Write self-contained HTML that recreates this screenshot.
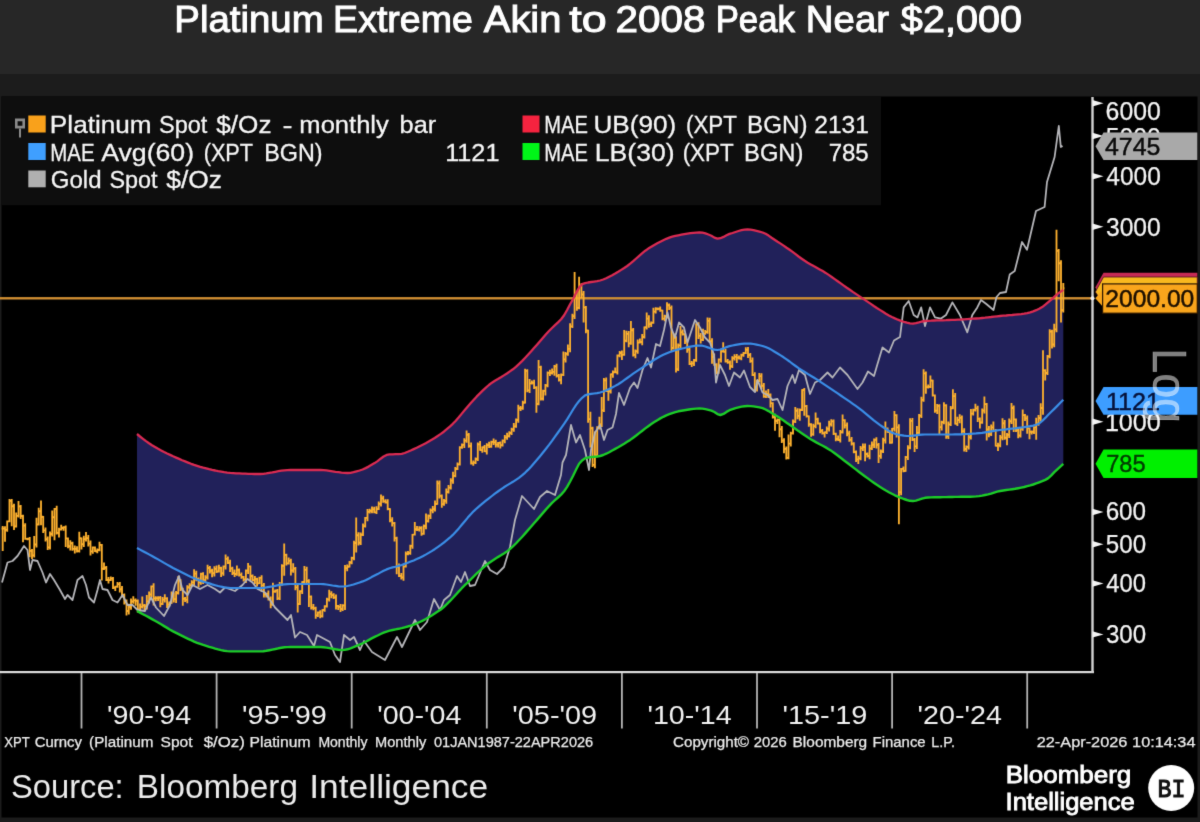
<!DOCTYPE html>
<html lang="en">
<head>
<meta charset="utf-8">
<title>Platinum Extreme Akin to 2008 Peak Near $2,000</title>
<style>
html,body{margin:0;padding:0;background:#1b1b1b;}
body{width:1200px;height:822px;overflow:hidden;position:relative;font-family:"Liberation Sans", sans-serif;color:#fff;}
#hdr{position:absolute;left:0;top:0;width:1200px;height:74px;background:#272727;}
#sub{position:absolute;left:0;top:74px;width:1200px;height:22.5px;background:#1c1c1c;}
#chart{position:absolute;left:0;top:0;width:1200px;height:822px;}
svg text{font-family:"Liberation Sans", sans-serif;}
svg text.bi{font-family:"Liberation Mono", monospace;}
</style>
</head>
<body>
<div id="hdr"></div>
<div id="sub"></div>
<svg id="chart" width="1200" height="822" viewBox="0 0 1200 822">
<defs><filter id="soft" filterUnits="userSpaceOnUse" x="0" y="0" width="1200" height="822" color-interpolation-filters="sRGB">
<feConvolveMatrix order="3" kernelMatrix="0.0113 0.0838 0.0113 0.0838 0.6193 0.0838 0.0113 0.0838 0.0113" edgeMode="duplicate" preserveAlpha="false"/></filter></defs>
<g filter="url(#soft)">
<rect x="0" y="0" width="1200" height="822" fill="#1b1b1b"/>
<rect x="0" y="0" width="1200" height="74" fill="#272727"/>
<rect x="0" y="74" width="1200" height="22.5" fill="#1c1c1c"/>
<!-- title -->
<g font-size="36.8" fill="#ffffff" stroke="#ffffff" stroke-width="1.0">
<text x="174.37" y="32" textLength="149.31" lengthAdjust="spacingAndGlyphs">Platinum</text><text x="333.14" y="32" textLength="139.70" lengthAdjust="spacingAndGlyphs">Extreme</text><text x="483.80" y="32" textLength="77.59" lengthAdjust="spacingAndGlyphs">Akin</text><text x="569.39" y="32" textLength="37.43" lengthAdjust="spacingAndGlyphs">to</text><text x="615.52" y="32" textLength="90.00" lengthAdjust="spacingAndGlyphs">2008</text><text x="715.67" y="32" textLength="79.22" lengthAdjust="spacingAndGlyphs">Peak</text><text x="805.87" y="32" textLength="83.12" lengthAdjust="spacingAndGlyphs">Near</text><text x="900.88" y="32" textLength="121.09" lengthAdjust="spacingAndGlyphs">$2,000</text>
</g>

<!-- plot background -->
<rect x="1.5" y="96.5" width="1196" height="721" fill="#000"/>

<!-- legend box -->
<rect x="1.5" y="96.5" width="879.5" height="108.7" fill="#0e0e0e"/>

<!-- MAE band -->
<path d="M137 434 L140 436.5 L143 438.8 L146 441.1 L149 443.2 L152 445.2 L155 447 L158.1 448.8 L161.1 450.4 L164.1 452 L167.1 453.5 L170.1 454.9 L173.1 456.3 L176.1 457.6 L179.1 458.9 L182.1 460.2 L185.1 461.4 L188.1 462.6 L191.1 463.8 L194.1 464.9 L197.1 465.9 L200.2 466.9 L203.2 467.7 L206.2 468.4 L209.2 469.2 L212.2 469.9 L215.2 470.5 L218.2 471.2 L221.2 471.7 L224.2 472.2 L227.2 472.6 L230.2 472.9 L233.2 473.1 L236.2 473.3 L239.3 473.4 L242.3 473.6 L245.3 473.7 L248.3 473.8 L251.3 473.9 L254.3 474 L257.3 474 L260.3 474 L263.3 473.8 L266.3 473.4 L269.3 472.9 L272.3 472.4 L275.3 471.8 L278.4 471.2 L281.4 470.7 L284.4 470.3 L287.4 470.1 L290.4 470 L293.4 470 L296.4 470 L299.4 470 L302.4 470 L305.4 470 L308.4 470 L311.4 470 L314.4 470 L317.4 470 L320.5 470 L323.5 470.1 L326.5 470.4 L329.5 470.8 L332.5 471.3 L335.5 471.8 L338.5 472.2 L341.5 472.6 L344.5 472.9 L347.5 473 L350.5 472.8 L353.5 472.2 L356.5 471.4 L359.6 470.5 L362.6 469.5 L365.6 468.1 L368.6 466.6 L371.6 464.8 L374.6 463.1 L377.6 461.1 L380.6 458.7 L383.6 456.5 L386.6 454.9 L389.6 454.4 L392.6 454.3 L395.6 454.2 L398.6 454.1 L401.7 453.8 L404.7 453 L407.7 451.8 L410.7 450.5 L413.7 449.1 L416.7 447.8 L419.7 446.3 L422.7 444.8 L425.7 443.2 L428.7 441.5 L431.7 439.8 L434.7 438 L437.7 436 L440.8 433.9 L443.8 431.7 L446.8 429.2 L449.8 426.6 L452.8 423.8 L455.8 420.7 L458.8 417.3 L461.8 413.6 L464.8 410 L467.8 406.5 L470.8 403 L473.8 399.7 L476.8 396.4 L479.9 393.4 L482.9 390.4 L485.9 387.6 L488.9 385 L491.9 382.7 L494.9 380.8 L497.9 379.1 L500.9 377.3 L503.9 375.4 L506.9 373.5 L509.9 371.4 L512.9 369.3 L515.9 366.9 L518.9 364.1 L522 361.1 L525 358 L528 354.8 L531 351.5 L534 348.1 L537 344.7 L540 341.2 L543 337.7 L546 334.3 L549 331 L552 328 L555 325.2 L558 322.4 L561.1 319.3 L564.1 315.3 L567.1 310 L570.1 304.3 L573.1 299 L576.1 293.1 L579.1 287.6 L582.1 284.2 L585.1 283.2 L588.1 282.5 L591.1 282 L594.1 281.6 L597.1 281.2 L600.1 280.5 L603.2 279.5 L606.2 278.3 L609.2 276.8 L612.2 275.3 L615.2 273.6 L618.2 271.8 L621.2 269.9 L624.2 268 L627.2 266 L630.2 263.7 L633.2 261.2 L636.2 258.5 L639.2 255.8 L642.3 253.2 L645.3 250.7 L648.3 248.6 L651.3 246.8 L654.3 245 L657.3 243.3 L660.3 241.7 L663.3 240.2 L666.3 238.8 L669.3 237.7 L672.3 236.7 L675.3 235.9 L678.3 235.3 L681.4 234.7 L684.4 234.1 L687.4 233.6 L690.4 233.2 L693.4 232.8 L696.4 232.6 L699.4 232.5 L702.4 232.7 L705.4 233.4 L708.4 234.5 L711.4 235.7 L714.4 237.6 L717.4 238.7 L720.4 238.2 L723.5 236.9 L726.5 235.3 L729.5 233.9 L732.5 233 L735.5 232 L738.5 231 L741.5 230.2 L744.5 229.7 L747.5 229.5 L750.5 229.7 L753.5 230.1 L756.5 230.8 L759.5 231.6 L762.6 232.5 L765.6 233.8 L768.6 235.6 L771.6 237.7 L774.6 239.7 L777.6 241.7 L780.6 243.6 L783.6 245.6 L786.6 247.7 L789.6 249.7 L792.6 251.9 L795.6 254.2 L798.6 256.5 L801.7 258.7 L804.7 260.8 L807.7 262.7 L810.7 264.4 L813.7 266.1 L816.7 267.7 L819.7 269.4 L822.7 271.1 L825.7 272.9 L828.7 274.9 L831.7 277 L834.7 279.1 L837.7 281.3 L840.7 283.4 L843.8 285.6 L846.8 287.8 L849.8 289.8 L852.8 291.9 L855.8 293.9 L858.8 295.9 L861.8 297.9 L864.8 299.9 L867.8 301.9 L870.8 303.9 L873.8 306 L876.8 308 L879.8 309.9 L882.9 311.8 L885.9 313.7 L888.9 315.4 L891.9 317 L894.9 318.4 L897.9 319.7 L900.9 320.8 L903.9 321.8 L906.9 322.7 L909.9 323.4 L912.9 323.6 L915.9 323.2 L918.9 322.4 L921.9 321.5 L925 321 L928 320.8 L931 320.7 L934 320.5 L937 320.4 L940 320.3 L943 320.3 L946 320.2 L949 320 L952 319.9 L955 319.8 L958 319.6 L961 319.5 L964.1 319.3 L967.1 319.1 L970.1 318.9 L973.1 318.7 L976.1 318.5 L979.1 318.3 L982.1 318 L985.1 317.7 L988.1 317.3 L991.1 317 L994.1 316.6 L997.1 316.3 L1000.1 316 L1003.2 315.7 L1006.2 315.5 L1009.2 315.2 L1012.2 315 L1015.2 314.7 L1018.2 314.4 L1021.2 314.1 L1024.2 313.7 L1027.2 313.1 L1030.2 312.3 L1033.2 311.3 L1036.2 310.2 L1039.2 308.8 L1042.2 307.1 L1045.3 304.7 L1048.3 302.1 L1051.3 299.6 L1054.3 296.9 L1057.3 294.2 L1060.3 291.9 L1063.3 290 L1063.3 463.8 L1060.3 466.6 L1057.3 469.4 L1054.3 472.2 L1051.3 475.3 L1048.3 478.1 L1045.3 479.9 L1042.2 481.2 L1039.2 482.3 L1036.2 483.4 L1033.2 484.5 L1030.2 485.4 L1027.2 486.2 L1024.2 487 L1021.2 487.6 L1018.2 488.2 L1015.2 488.8 L1012.2 489.2 L1009.2 489.6 L1006.2 490 L1003.2 490.5 L1000.1 491 L997.1 491.7 L994.1 492.6 L991.1 493.6 L988.1 494.4 L985.1 495 L982.1 495.6 L979.1 496.1 L976.1 496.4 L973.1 496.6 L970.1 496.7 L967.1 496.7 L964.1 496.8 L961 496.8 L958 496.9 L955 496.9 L952 497 L949 497 L946 497.1 L943 497.1 L940 497.2 L937 497.2 L934 497.3 L931 497.4 L928 497.5 L925 497.8 L921.9 498.7 L918.9 499.7 L915.9 500.6 L912.9 501 L909.9 500.8 L906.9 500 L903.9 499 L900.9 497.8 L897.9 496.7 L894.9 495.3 L891.9 493.8 L888.9 492.2 L885.9 490.5 L882.9 488.7 L879.8 486.8 L876.8 484.8 L873.8 482.7 L870.8 480.6 L867.8 478.4 L864.8 476.2 L861.8 474 L858.8 471.7 L855.8 469.4 L852.8 467.1 L849.8 464.8 L846.8 462.5 L843.8 460.2 L840.7 457.8 L837.7 455.5 L834.7 453.3 L831.7 451.1 L828.7 449.2 L825.7 447.4 L822.7 445.8 L819.7 444.2 L816.7 442.6 L813.7 440.9 L810.7 439.2 L807.7 437.3 L804.7 435.3 L801.7 433.2 L798.6 431.1 L795.6 428.9 L792.6 426.8 L789.6 424.7 L786.6 422.7 L783.6 420.6 L780.6 418.5 L777.6 416.6 L774.6 414.8 L771.6 413 L768.6 411.1 L765.6 409.5 L762.6 408.2 L759.5 407.4 L756.5 406.9 L753.5 406.4 L750.5 406.1 L747.5 406 L744.5 406.2 L741.5 406.6 L738.5 407.4 L735.5 408.2 L732.5 409.2 L729.5 410.2 L726.5 411.9 L723.5 413.9 L720.4 415 L717.4 414.1 L714.4 412 L711.4 410.7 L708.4 409.8 L705.4 409.1 L702.4 408.6 L699.4 408.5 L696.4 408.6 L693.4 408.9 L690.4 409.2 L687.4 409.7 L684.4 410.2 L681.4 410.7 L678.3 411.3 L675.3 412.1 L672.3 413.1 L669.3 414.2 L666.3 415.4 L663.3 416.8 L660.3 418.4 L657.3 420.2 L654.3 422.1 L651.3 424.1 L648.3 426.2 L645.3 428.4 L642.3 430.7 L639.2 433.1 L636.2 435.5 L633.2 437.7 L630.2 439.9 L627.2 441.8 L624.2 443.7 L621.2 445.5 L618.2 447.3 L615.2 448.9 L612.2 450.5 L609.2 452.2 L606.2 453.7 L603.2 455 L600.1 456 L597.1 456.5 L594.1 456.8 L591.1 457.1 L588.1 457.5 L585.1 458.3 L582.1 460.4 L579.1 463.7 L576.1 469.6 L573.1 475.8 L570.1 481.5 L567.1 486.9 L564.1 491.2 L561.1 494.6 L558 497.5 L555 500.2 L552 502.9 L549 506.1 L546 509.4 L543 512.9 L540 516.4 L537 519.9 L534 523.3 L531 526.7 L528 530.1 L525 533.6 L522 537 L518.9 540.3 L515.9 543.5 L512.9 546.4 L509.9 549.1 L506.9 551.4 L503.9 553.4 L500.9 555.3 L497.9 557.1 L494.9 559 L491.9 560.9 L488.9 563 L485.9 565.3 L482.9 567.9 L479.9 570.6 L476.8 573.4 L473.8 576.3 L470.8 579.3 L467.8 582.3 L464.8 585.2 L461.8 588.2 L458.8 591.4 L455.8 594.7 L452.8 598 L449.8 601.2 L446.8 604.2 L443.8 607 L440.8 609.5 L437.7 611.6 L434.7 613.6 L431.7 615.5 L428.7 617.3 L425.7 619 L422.7 620.6 L419.7 622 L416.7 623.4 L413.7 624.6 L410.7 625.6 L407.7 626.5 L404.7 627.3 L401.7 628.1 L398.6 628.8 L395.6 629.4 L392.6 630 L389.6 630.7 L386.6 631.6 L383.6 632.7 L380.6 634 L377.6 635.5 L374.6 636.9 L371.6 638.4 L368.6 640.1 L365.6 641.8 L362.6 643.3 L359.6 644.6 L356.5 645.9 L353.5 647.2 L350.5 648.4 L347.5 649.3 L344.5 649.9 L341.5 650 L338.5 649.7 L335.5 649.3 L332.5 648.7 L329.5 648.1 L326.5 647.6 L323.5 647.2 L320.5 647 L317.4 647 L314.4 647 L311.4 647 L308.4 647 L305.4 647 L302.4 647 L299.4 647 L296.4 647 L293.4 647 L290.4 647 L287.4 647.1 L284.4 647.3 L281.4 647.8 L278.4 648.3 L275.3 649 L272.3 649.6 L269.3 650.2 L266.3 650.8 L263.3 651.2 L260.3 651.4 L257.3 651.4 L254.3 651.4 L251.3 651.4 L248.3 651.4 L245.3 651.4 L242.3 651.4 L239.3 651.4 L236.2 651.4 L233.2 651.4 L230.2 651.4 L227.2 651.1 L224.2 650.7 L221.2 650.1 L218.2 649.4 L215.2 648.6 L212.2 647.7 L209.2 646.8 L206.2 645.8 L203.2 644.9 L200.2 643.9 L197.1 642.8 L194.1 641.6 L191.1 640.2 L188.1 638.8 L185.1 637.4 L182.1 635.9 L179.1 634.4 L176.1 632.9 L173.1 631.4 L170.1 629.7 L167.1 627.9 L164.1 626.1 L161.1 624.3 L158.1 622.5 L155 620.8 L152 619.1 L149 617.4 L146 615.8 L143 614.2 L140 612.6 L137 611 Z" fill="#21215a"/>
<!-- 2000 horizontal line -->
<rect x="0" y="297.1" width="1093" height="2.4" fill="#d08e32"/>
<!-- platinum monthly bars -->
<path d="M2.7 526V550.9M1.5 528.5H2.7M2.7 528.5H3.9M5 526.3V541.7M3.8 528.5H5M5 529.9H6.2M7.2 520.5V531.8M6 529.9H7.2M7.2 521.3H8.4M9.5 499.1V522.3M8.3 521.3H9.5M9.5 500.8H10.7M11.7 499V526.3M10.5 500.8H11.7M11.7 506.2H12.9M14 503.7V529.9M12.8 506.2H14M14 526.5H15.2M16.2 512.5V527.4M15 526.5H16.2M16.2 515.9H17.4M18.5 500.9V517.4M17.3 515.9H18.5M18.5 506.4H19.7M20.7 504.9V519M19.5 506.4H20.7M20.7 516H21.9M23 514.8V542.3M21.8 516H23M23 525.6H24.2M25.2 523.3V539.8M24 525.6H25.2M25.2 538.9H26.4M27.5 537.8V540.2M26.3 538.9H27.5M27.5 538.7H28.7M29.7 537.1V557.3M28.5 538.7H29.7M29.7 550.9H30.9M32 548.9V559M30.8 550.9H32M32 555.3H33.2M34.2 536.1V557.6M33 555.3H34.2M34.2 544.5H35.4M36.5 517.8V547.6M35.3 544.5H36.5M36.5 524.5H37.7M38.7 507.8V525.5M37.5 524.5H38.7M38.7 511.2H39.9M41 500.6V525.3M39.8 511.2H41M41 516.7H42.2M43.2 515.9V532.9M42 516.7H43.2M43.2 530.3H44.4M45.5 527.5V541.4M44.3 530.3H45.5M45.5 539.1H46.7M47.7 536.5V549.9M46.5 539.1H47.7M47.7 547.4H48.9M50 531.6V549.4M48.8 547.4H50M50 534H51.2M52.2 510.5V536.5M51 534H52.2M52.2 517.2H53.4M54.5 508V540.2M53.3 517.2H54.5M54.5 508.8H55.7M56.7 505.8V534.4M55.5 508.8H56.7M56.7 532.9H57.9M59 527.8V537.6M57.8 532.9H59M59 529.6H60.2M61.2 524.8V530.6M60 529.6H61.2M61.2 528H62.4M63.5 526.3V530.8M62.3 528H63.5M63.5 527.2H64.7M65.7 525.4V547.1M64.5 527.2H65.7M65.7 538.3H66.9M68 537.4V548.2M66.8 538.3H68M68 546.2H69.2M70.3 540.3V550.6M69.1 546.2H70.3M70.3 543.2H71.5M72.5 541.8V550.7M71.3 543.2H72.5M72.5 548.9H73.7M74.8 545.4V553.6M73.6 548.9H74.8M74.8 548.8H76M77 546.3V552.4M75.8 548.8H77M77 551.1H78.2M79.3 531.7V552.5M78.1 551.1H79.3M79.3 538.2H80.5M81.5 537.5V549.4M80.3 538.2H81.5M81.5 544.2H82.7M83.8 535.7V546.9M82.6 544.2H83.8M83.8 539.1H85M86 531.9V541.5M84.8 539.1H86M86 538.1H87.2M88.3 534.9V546.4M87.1 538.1H88.3M88.3 543.6H89.5M90.5 540.4V555.4M89.3 543.6H90.5M90.5 551.3H91.7M92.8 546.4V553.7M91.6 551.3H92.8M92.8 547.4H94M95 546.5V552.1M93.8 547.4H95M95 551.2H96.2M97.3 548.4V553.3M96.1 551.2H97.3M97.3 550H98.5M99.5 541.8V551.2M98.3 550H99.5M99.5 544.8H100.7M101.8 544V580.6M100.6 544.8H101.8M101.8 568.7H103M104 562.6V569.9M102.8 568.7H104M104 567.7H105.2M106.3 566V581M105.1 567.7H106.3M106.3 580H107.5M108.5 576.9V583.6M107.3 580H108.5M108.5 580.1H109.7M110.8 576.6V581.1M109.6 580.1H110.8M110.8 578.6H112M113 577V589.1M111.8 578.6H113M113 587.7H114.2M115.3 585.8V591M114.1 587.7H115.3M115.3 586.6H116.5M117.5 582V587.7M116.3 586.6H117.5M117.5 584.1H118.7M119.8 582V592.6M118.6 584.1H119.8M119.8 589.2H121M122 586.1V597.4M120.8 589.2H122M122 594.8H123.2M124.3 593.6V604.6M123.1 594.8H124.3M124.3 601.7H125.5M126.5 599.5V615.4M125.3 601.7H126.5M126.5 611H127.7M128.8 603.7V614.5M127.6 611H128.8M128.8 606.7H130M131 598.4V609.7M129.8 606.7H131M131 601.5H132.2M133.3 596.2V603.7M132.1 601.5H133.3M133.3 600.3H134.5M135.6 598.6V605.8M134.4 600.3H135.6M135.6 600.9H136.8M137.8 599.5V612.6M136.6 600.9H137.8M137.8 609.5H139M140.1 603.4V611.5M138.9 609.5H140.1M140.1 606.8H141.3M142.3 596.6V608.5M141.1 606.8H142.3M142.3 605.5H143.5M144.6 604.1V611.3M143.4 605.5H144.6M144.6 606.2H145.8M146.8 595.1V609.4M145.6 606.2H146.8M146.8 601.3H148M149.1 591.4V603.4M147.9 601.3H149.1M149.1 594.5H150.3M151.3 585.5V597M150.1 594.5H151.3M151.3 586.4H152.5M153.6 583.2V605.4M152.4 586.4H153.6M153.6 598.4H154.8M155.8 596.3V601.3M154.6 598.4H155.8M155.8 598.1H157M158.1 596.2V601M156.9 598.1H158.1M158.1 597.9H159.3M160.3 596V607.3M159.1 597.9H160.3M160.3 604H161.5M162.6 596.9V605.1M161.4 604H162.6M162.6 599.6H163.8M164.8 594.3V602.6M163.6 599.6H164.8M164.8 598.4H166M167.1 597.3V608M165.9 598.4H167.1M167.1 604.5H168.3M169.3 601.4V606.7M168.1 604.5H169.3M169.3 603H170.5M171.6 591.4V603.8M170.4 603H171.6M171.6 594.5H172.8M173.8 592.3V602.4M172.6 594.5H173.8M173.8 599.1H175M176.1 591.1V603.1M174.9 599.1H176.1M176.1 593H177.3M178.3 576.1V594.6M177.1 593H178.3M178.3 580.6H179.5M180.6 579.2V591.1M179.4 580.6H180.6M180.6 588.7H181.8M182.8 587.7V605.7M181.6 588.7H182.8M182.8 598.7H184M185.1 597V601.9M183.9 598.7H185.1M185.1 599.9H186.3M187.3 585.3V603.2M186.1 599.9H187.3M187.3 587.2H188.5M189.6 583.2V589.3M188.4 587.2H189.6M189.6 585.3H190.8M191.8 580.3V586.5M190.6 585.3H191.8M191.8 582.3H193M194.1 569.3V585.2M192.9 582.3H194.1M194.1 573.6H195.3M196.3 570.8V581.3M195.1 573.6H196.3M196.3 579H197.5M198.6 577.4V587.2M197.4 579H198.6M198.6 582.4H199.8M200.9 572.7V584.7M199.7 582.4H200.9M200.9 573.7H202.1M203.1 572.3V584M201.9 573.7H203.1M203.1 580.1H204.3M205.4 575.2V583M204.2 580.1H205.4M205.4 577.4H206.6M207.6 564.7V579.4M206.4 577.4H207.6M207.6 568H208.8M209.9 565.9V573.4M208.7 568H209.9M209.9 570.7H211.1M212.1 568.8V577.2M210.9 570.7H212.1M212.1 573.2H213.3M214.4 566.2V576.4M213.2 573.2H214.4M214.4 568.9H215.6M216.6 565.6V572.9M215.4 568.9H216.6M216.6 571.5H217.8M218.9 564.8V572.6M217.7 571.5H218.9M218.9 567.8H220.1M221.1 566.8V576.9M219.9 567.8H221.1M221.1 573.2H222.3M223.4 565.4V575.8M222.2 573.2H223.4M223.4 566.3H224.6M225.6 554.6V569.5M224.4 566.3H225.6M225.6 558.9H226.8M227.9 556.4V564M226.7 558.9H227.9M227.9 562.9H229.1M230.1 559.8V571.9M228.9 562.9H230.1M230.1 568.5H231.3M232.4 566.7V575.1M231.2 568.5H232.4M232.4 573H233.6M234.6 569.5V577.1M233.4 573H234.6M234.6 574H235.8M236.9 565.4V575.7M235.7 574H236.9M236.9 569.8H238.1M239.1 568.5V576.6M237.9 569.8H239.1M239.1 574.9H240.3M241.4 572.6V578.7M240.2 574.9H241.4M241.4 576.8H242.6M243.6 576V581.6M242.4 576.8H243.6M243.6 579.5H244.8M245.9 569.6V583M244.7 579.5H245.9M245.9 570.5H247.1M248.1 563.1V573.9M246.9 570.5H248.1M248.1 566.4H249.3M250.4 565.6V580.4M249.2 566.4H250.4M250.4 576H251.6M252.6 574.5V581.3M251.4 576H252.6M252.6 580.2H253.8M254.9 575.9V583.9M253.7 580.2H254.9M254.9 578.9H256.1M257.1 577.7V586.6M255.9 578.9H257.1M257.1 583.3H258.3M259.4 576.8V584.1M258.2 583.3H259.4M259.4 577.8H260.6M261.6 575.2V591.9M260.4 577.8H261.6M261.6 585.4H262.8M263.9 582.9V597.5M262.7 585.4H263.9M263.9 594.5H265.1M266.2 592.8V597.6M265 594.5H266.2M266.2 593.7H267.4M268.4 590.5V600.4M267.2 593.7H268.4M268.4 598.8H269.6M270.7 596.5V608.3M269.5 598.8H270.7M270.7 604.5H271.9M272.9 582.8V605.8M271.7 604.5H272.9M272.9 591.6H274.1M275.2 589.6V592.8M274 591.6H275.2M275.2 590.6H276.4M277.4 589.1V599.9M276.2 590.6H277.4M277.4 598.3H278.6M279.7 582.1V599.9M278.5 598.3H279.7M279.7 584.9H280.9M281.9 564.3V585.7M280.7 584.9H281.9M281.9 565.9H283.1M284.2 543.6V575.7M283 565.9H284.2M284.2 554.9H285.4M286.4 553.7V565.5M285.2 554.9H286.4M286.4 563.4H287.6M288.7 557.6V564.4M287.5 563.4H288.7M288.7 560.9H289.9M290.9 558.8V575.5M289.7 560.9H290.9M290.9 570.5H292.1M293.2 563.2V572.7M292 570.5H293.2M293.2 568.6H294.4M295.4 567V590.3M294.2 568.6H295.4M295.4 587.3H296.6M297.7 584.6V612.5M296.5 587.3H297.7M297.7 604H298.9M299.9 590.3V605.1M298.7 604H299.9M299.9 591.2H301.1M302.2 581.2V593.9M301 591.2H302.2M302.2 582H303.4M304.4 566.1V585.1M303.2 582H304.4M304.4 569.8H305.6M306.7 566.7V583.4M305.5 569.8H306.7M306.7 580.9H307.9M308.9 579.3V607M307.7 580.9H308.9M308.9 596.6H310.1M311.2 595.5V609.4M310 596.6H311.2M311.2 607.5H312.4M313.4 604.1V610.3M312.2 607.5H313.4M313.4 608.1H314.6M315.7 606.7V618.7M314.5 608.1H315.7M315.7 615.3H316.9M317.9 611.6V617M316.7 615.3H317.9M317.9 612.3H319.1M320.2 610.3V618.2M319 612.3H320.2M320.2 616.1H321.4M322.4 609.3V617.6M321.2 616.1H322.4M322.4 610H323.6M324.7 605.3V611.8M323.5 610H324.7M324.7 606.2H325.9M326.9 597.8V607.6M325.7 606.2H326.9M326.9 599.4H328.1M329.2 589.7V601.6M328 599.4H329.2M329.2 593.9H330.4M331.4 591.2V598.3M330.2 593.9H331.4M331.4 595.1H332.6M333.7 593.3V598.9M332.5 595.1H333.7M333.7 597.3H334.9M336 594.6V609.5M334.8 597.3H336M336 605.8H337.2M338.2 605V609.9M337 605.8H338.2M338.2 606.9H339.4M340.5 604.1V611.9M339.3 606.9H340.5M340.5 609H341.7M342.7 604.3V611.1M341.5 609H342.7M342.7 605.4H343.9M345 565.1V610M343.8 605.4H345M345 568.1H346.2M347.2 564.4V571.3M346 568.1H347.2M347.2 566.7H348.4M349.5 561.1V567.5M348.3 566.7H349.5M349.5 562.5H350.7M351.7 556.8V564.2M350.5 562.5H351.7M351.7 557.9H352.9M354 540.8V560.3M352.8 557.9H354M354 543H355.2M356.2 517.5V552.6M355 543H356.2M356.2 535.2H357.4M358.5 532.3V545.5M357.3 535.2H358.5M358.5 542.7H359.7M360.7 532.5V544.9M359.5 542.7H360.7M360.7 534.7H361.9M363 523.4V536.1M361.8 534.7H363M363 526.1H364.2M365.2 516.9V527.6M364 526.1H365.2M365.2 517.8H366.4M367.5 509.1V521.3M366.3 517.8H367.5M367.5 511.8H368.7M369.7 508.7V513.6M368.5 511.8H369.7M369.7 510.8H370.9M372 506.4V513.2M370.8 510.8H372M372 509.3H373.2M374.2 506.8V513.3M373 509.3H374.2M374.2 512.4H375.4M376.5 506.3V513.9M375.3 512.4H376.5M376.5 509.1H377.7M378.7 501.5V509.9M377.5 509.1H378.7M378.7 503.8H379.9M381 494.4V506.4M379.8 503.8H381M381 498.4H382.2M383.2 495.8V502.8M382 498.4H383.2M383.2 501.3H384.4M385.5 499.3V503.5M384.3 501.3H385.5M385.5 502.5H386.7M387.7 499.3V510.3M386.5 502.5H387.7M387.7 509H388.9M390 508.3V522.2M388.8 509H390M390 520.2H391.2M392.2 517.2V526.6M391 520.2H392.2M392.2 523.1H393.4M394.5 521.9V541.5M393.3 523.1H394.5M394.5 538.1H395.7M396.7 536.8V574.3M395.5 538.1H396.7M396.7 566.9H397.9M399 563.6V577M397.8 566.9H399M399 575.9H400.2M401.3 572.9V579.6M400.1 575.9H401.3M401.3 577.4H402.5M403.5 565.3V580.7M402.3 577.4H403.5M403.5 566.6H404.7M405.8 551.6V567.4M404.6 566.6H405.8M405.8 553.7H407M408 551.1V555.2M406.8 553.7H408M408 553.1H409.2M410.3 544.8V554.7M409.1 553.1H410.3M410.3 545.9H411.5M412.5 533.9V548.7M411.3 545.9H412.5M412.5 534.6H413.7M414.8 522V535.6M413.6 534.6H414.8M414.8 529.2H416M417 526V531.1M415.8 529.2H417M417 529.6H418.2M419.3 526.3V531.4M418.1 529.6H419.3M419.3 528H420.5M421.5 526.3V535.8M420.3 528H421.5M421.5 533.9H422.7M423.8 524.5V534.8M422.6 533.9H423.8M423.8 526H425M426 513.5V529.3M424.8 526H426M426 521.1H427.2M428.3 514.4V522.5M427.1 521.1H428.3M428.3 515.8H429.5M430.5 508.6V519.1M429.3 515.8H430.5M430.5 510.3H431.7M432.8 506V513.3M431.6 510.3H432.8M432.8 509.1H434M435 500.6V511.4M433.8 509.1H435M435 504H436.2M437.3 480.6V504.8M436.1 504H437.3M437.3 483.3H438.5M439.5 480.5V498.4M438.3 483.3H439.5M439.5 495.9H440.7M441.8 494.4V507.8M440.6 495.9H441.8M441.8 504.1H443M444 498.9V505.7M442.8 504.1H444M444 500.9H445.2M446.3 488.5V503.7M445.1 500.9H446.3M446.3 492H447.5M448.5 485.1V493.6M447.3 492H448.5M448.5 487.6H449.7M450.8 478.3V489.5M449.6 487.6H450.8M450.8 480.6H452M453 471.7V483.8M451.8 480.6H453M453 475.9H454.2M455.3 466.9V477.2M454.1 475.9H455.3M455.3 469H456.5M457.5 462.5V470.1M456.3 469H457.5M457.5 464.4H458.7M459.8 446.2V465.4M458.6 464.4H459.8M459.8 447.4H461M462 443.4V448.8M460.8 447.4H462M462 444.8H463.2M464.3 438.3V448M463.1 444.8H464.3M464.3 440.6H465.5M466.6 430.6V442.8M465.4 440.6H466.6M466.6 434.7H467.8M468.8 433V447.7M467.6 434.7H468.8M468.8 446H470M471.1 442.6V464.4M469.9 446H471.1M471.1 463.3H472.3M473.3 460.4V465.8M472.1 463.3H473.3M473.3 462.6H474.5M475.6 457.6V463.9M474.4 462.6H475.6M475.6 459H476.8M477.8 442.4V461M476.6 459H477.8M477.8 444.3H479M480.1 441.1V450.8M478.9 444.3H480.1M480.1 450.1H481.3M482.3 446.4V452.7M481.1 450.1H482.3M482.3 447.2H483.5M484.6 444.9V452M483.4 447.2H484.6M484.6 451.3H485.8M486.8 443.2V454.6M485.6 451.3H486.8M486.8 445.1H488M489.1 441.7V448M487.9 445.1H489.1M489.1 446.6H490.3M491.3 440.8V447.8M490.1 446.6H491.3M491.3 441.9H492.5M493.6 438.5V445M492.4 441.9H493.6M493.6 442.3H494.8M495.8 439.8V447.5M494.6 442.3H495.8M495.8 444.6H497M498.1 442V447.5M496.9 444.6H498.1M498.1 442.8H499.3M500.3 441.5V448.4M499.1 442.8H500.3M500.3 445.2H501.5M502.6 439.6V446.6M501.4 445.2H502.6M502.6 440.6H503.8M504.8 434.9V443.3M503.6 440.6H504.8M504.8 437.3H506M507.1 432.8V439.7M505.9 437.3H507.1M507.1 436.1H508.3M509.3 431.2V437.4M508.1 436.1H509.3M509.3 433H510.5M511.6 427.8V435M510.4 433H511.6M511.6 429.3H512.8M513.8 423V431.8M512.6 429.3H513.8M513.8 426.4H515M516.1 418.6V427.8M514.9 426.4H516.1M516.1 420H517.3M518.3 404.8V422.7M517.1 420H518.3M518.3 408.2H519.5M520.6 406.1V410.9M519.4 408.2H520.6M520.6 408.3H521.8M522.8 400.8V409.7M521.6 408.3H522.8M522.8 402.7H524M525.1 368.7V403.5M523.9 402.7H525.1M525.1 370.8H526.3M527.3 369.2V392.3M526.1 370.8H527.3M527.3 390.4H528.5M529.6 379.1V393.1M528.4 390.4H529.6M529.6 383.3H530.8M531.9 380.6V384.6M530.7 383.3H531.9M531.9 382.8H533.1M534.1 379.8V389M532.9 382.8H534.1M534.1 387.6H535.3M536.4 386.3V412.8M535.2 387.6H536.4M536.4 404H537.6M538.6 359.9V405.3M537.4 404H538.6M538.6 367.1H539.8M540.9 365.7V400.6M539.7 367.1H540.9M540.9 398.7H542.1M543.1 389.8V400.5M541.9 398.7H543.1M543.1 390.9H544.3M545.4 384.1V395.4M544.2 390.9H545.4M545.4 385.4H546.6M547.6 371.6V387.2M546.4 385.4H547.6M547.6 372.9H548.8M549.9 369.7V376.1M548.7 372.9H549.9M549.9 373H551.1M552.1 368.5V374.6M550.9 373H552.1M552.1 371.8H553.3M554.4 365.1V375.8M553.2 371.8H554.4M554.4 366.3H555.6M556.6 363.7V377.5M555.4 366.3H556.6M556.6 375.7H557.8M558.9 374V381.4M557.7 375.7H558.9M558.9 379.8H560.1M561.1 373.4V384.2M559.9 379.8H561.1M561.1 374.8H562.3M563.4 351.6V375.9M562.2 374.8H563.4M563.4 359.4H564.6M565.6 352.1V362.4M564.4 359.4H565.6M565.6 353.8H566.8M567.9 344.5V355.7M566.7 353.8H567.9M567.9 348.9H569.1M570.1 323.3V352.2M568.9 348.9H570.1M570.1 326.4H571.3M572.4 313.8V328.1M571.2 326.4H572.4M572.4 316.1H573.6M574.6 272.1V319.1M573.4 316.1H574.6M574.6 294.1H575.8M576.9 291.3V310.8M575.7 294.1H576.9M576.9 307.8H578.1M579.1 276.7V309.2M577.9 307.8H579.1M579.1 286.1H580.3M581.4 283.3V298.2M580.2 286.1H581.4M581.4 294.5H582.6M583.6 291.1V322.4M582.4 294.5H583.6M583.6 307.4H584.8M585.9 306V333.2M584.7 307.4H585.9M585.9 330.5H587.1M588.1 329.8V422.8M586.9 330.5H588.1M588.1 419.1H589.3M590.4 411.7V447.5M589.2 419.1H590.4M590.4 428.2H591.6M592.6 426.8V467M591.4 428.2H592.6M592.6 464.8H593.8M594.9 431.6V468.2M593.7 464.8H594.9M594.9 455.3H596.1M597.2 426.3V457.3M596 455.3H597.2M597.2 428.2H598.4M599.4 416.7V429.4M598.2 428.2H599.4M599.4 424.1H600.6M601.7 397V427M600.5 424.1H601.7M601.7 410.4H602.9M603.9 377.9V412.1M602.7 410.4H603.9M603.9 380.3H605.1M606.2 377.5V392.1M605 380.3H606.2M606.2 391.1H607.4M608.4 389.9V400.8M607.2 391.1H608.4M608.4 391.2H609.6M610.7 373.4V393.4M609.5 391.2H610.7M610.7 374.2H611.9M612.9 370.6V377.7M611.7 374.2H612.9M612.9 372.2H614.1M615.2 367.6V373.2M614 372.2H615.2M615.2 372.3H616.4M617.4 354.5V374.4M616.2 372.3H617.4M617.4 355.5H618.6M619.7 351.1V357.3M618.5 355.5H619.7M619.7 353H620.9M621.9 350.5V360.1M620.7 353H621.9M621.9 354.8H623.1M624.2 329.9V355.8M623 354.8H624.2M624.2 340.7H625.4M626.4 330.8V342.3M625.2 340.7H626.4M626.4 333.8H627.6M628.7 331V347.3M627.5 333.8H628.7M628.7 343.3H629.9M630.9 321.1V344.7M629.7 343.3H630.9M630.9 330.2H632.1M633.2 327.9V356.4M632 330.2H633.2M633.2 354.8H634.4M635.4 349.4V358.3M634.2 354.8H635.4M635.4 351.2H636.6M637.7 339.6V353.7M636.5 351.2H637.7M637.7 342.6H638.9M639.9 338.5V343.5M638.7 342.6H639.9M639.9 342H641.1M642.2 333.9V345.3M641 342H642.2M642.2 337H643.4M644.4 326.4V338.5M643.2 337H644.4M644.4 327.2H645.6M646.7 312.6V329.6M645.5 327.2H646.7M646.7 318.6H647.9M648.9 315.3V327.7M647.7 318.6H648.9M648.9 324.1H650.1M651.2 321.4V327M650 324.1H651.2M651.2 322.8H652.4M653.4 307.7V323.8M652.2 322.8H653.4M653.4 311.6H654.6M655.7 307.3V313.4M654.5 311.6H655.7M655.7 308.7H656.9M657.9 307.6V310.2M656.7 308.7H657.9M657.9 308.9H659.1M660.2 306.4V311.7M659 308.9H660.2M660.2 310.4H661.4M662.4 309.7V320.2M661.2 310.4H662.4M662.4 318.6H663.6M664.7 314.7V321.3M663.5 318.6H664.7M664.7 316.2H665.9M667 302.3V318.5M665.8 316.2H667M667 305.2H668.2M669.2 303.4V310.1M668 305.2H669.2M669.2 307.9H670.4M671.5 305.4V351M670.3 307.9H671.5M671.5 348H672.7M673.7 333.2V349.5M672.5 348H673.7M673.7 337.9H674.9M676 336.3V372.6M674.8 337.9H676M676 369.2H677.2M678.2 343.6V371.1M677 369.2H678.2M678.2 345.3H679.4M680.5 325.9V348.8M679.3 345.3H680.5M680.5 332.2H681.7M682.7 329.4V335.5M681.5 332.2H682.7M682.7 334.2H683.9M685 333.5V344.1M683.8 334.2H685M685 340.8H686.2M687.2 339V352.7M686 340.8H687.2M687.2 349.5H688.4M689.5 347.5V365M688.3 349.5H689.5M689.5 363.8H690.7M691.7 360.9V367M690.5 363.8H691.7M691.7 363.4H692.9M694 359.1V365.9M692.8 363.4H694M694 360.2H695.2M696.2 323.3V361.7M695 360.2H696.2M696.2 324.4H697.4M698.5 322.2V339.1M697.3 324.4H698.5M698.5 335.8H699.7M700.7 332.9V343.4M699.5 335.8H700.7M700.7 339.8H701.9M703 328.7V340.9M701.8 339.8H703M703 333.9H704.2M705.2 329.9V334.7M704 333.9H705.2M705.2 332H706.4M707.5 317.5V333.7M706.3 332H707.5M707.5 320.8H708.7M709.7 317.8V342.3M708.5 320.8H709.7M709.7 341.1H710.9M712 338.2V363.8M710.8 341.1H712M712 356.7H713.2M714.2 353.6V365.8M713 356.7H714.2M714.2 364.6H715.4M716.5 363.3V374.3M715.3 364.6H716.5M716.5 372.4H717.7M718.7 358.4V373.8M717.5 372.4H718.7M718.7 359.4H719.9M721 348.7V362.6M719.8 359.4H721M721 351.4H722.2M723.2 342.2V352.5M722 351.4H723.2M723.2 351.7H724.4M725.5 348.7V362.4M724.3 351.7H725.5M725.5 361.3H726.7M727.7 358.9V363.8M726.5 361.3H727.7M727.7 362.3H728.9M730 360.4V369.8M728.8 362.3H730M730 366.2H731.2M732.3 356.2V368.1M731.1 366.2H732.3M732.3 358.1H733.5M734.5 354.2V360.5M733.3 358.1H734.5M734.5 356.9H735.7M736.8 354.1V362.9M735.6 356.9H736.8M736.8 357.6H738M739 355.6V359.5M737.8 357.6H739M739 358.3H740.2M741.3 353.7V360.2M740.1 358.3H741.3M741.3 354.7H742.5M743.5 352.1V356.7M742.3 354.7H743.5M743.5 353.1H744.7M745.8 347.3V354M744.6 353.1H745.8M745.8 349.8H747M748 347V357.9M746.8 349.8H748M748 355H749.2M750.3 352.9V362.8M749.1 355H750.3M750.3 361H751.5M752.5 357.6V376.1M751.3 361H752.5M752.5 375H753.7M754.8 372.3V390.1M753.6 375H754.8M754.8 387.2H756M757 379.8V391.4M755.8 387.2H757M757 381H758.2M759.3 372.9V382.2M758.1 381H759.3M759.3 376.1H760.5M761.5 373.2V389M760.3 376.1H761.5M761.5 385.7H762.7M763.8 382.9V397.7M762.6 385.7H763.8M763.8 396.6H765M766 390.6V398.1M764.8 396.6H766M766 393.8H767.2M768.3 388.9V398M767.1 393.8H768.3M768.3 394.7H769.5M770.5 393.5V407.4M769.3 394.7H770.5M770.5 403.1H771.7M772.8 402.3V418.4M771.6 403.1H772.8M772.8 417.2H774M775 413.8V430.8M773.8 417.2H775M775 421H776.2M777.3 418.6V423.9M776.1 421H777.3M777.3 419.8H778.5M779.5 418.8V437.2M778.3 419.8H779.5M779.5 429.2H780.7M781.8 426.1V442.9M780.6 429.2H781.8M781.8 440.6H783M784 438.3V453.2M782.8 440.6H784M784 448.8H785.2M786.3 446.4V459.6M785.1 448.8H786.3M786.3 457.8H787.5M788.5 434.6V459.2M787.3 457.8H788.5M788.5 443.6H789.7M790.8 431.7V446.5M789.6 443.6H790.8M790.8 433.4H792M793 419.6V434.6M791.8 433.4H793M793 421.6H794.2M795.3 407V423M794.1 421.6H795.3M795.3 410.7H796.5M797.6 408.2V419.3M796.4 410.7H797.6M797.6 415.8H798.8M799.8 408.4V420.7M798.6 415.8H799.8M799.8 410H801M802.1 389.2V411.1M800.9 410H802.1M802.1 390H803.3M804.3 387.9V415.7M803.1 390H804.3M804.3 406.1H805.5M806.6 405V417.4M805.4 406.1H806.6M806.6 416.1H807.8M808.8 415.4V426.7M807.6 416.1H808.8M808.8 424.2H810M811.1 423.2V436.7M809.9 424.2H811.1M811.1 434.4H812.3M813.3 423.8V435.7M812.1 434.4H813.3M813.3 426.1H814.5M815.6 412.6V428.2M814.4 426.1H815.6M815.6 419.1H816.8M817.8 417.7V424.6M816.6 419.1H817.8M817.8 423.5H819M820.1 422.5V433.3M818.9 423.5H820.1M820.1 430.8H821.3M822.3 428.9V434.6M821.1 430.8H822.3M822.3 433.2H823.5M824.6 431.4V437.5M823.4 433.2H824.6M824.6 432.1H825.8M826.8 426.4V434M825.6 432.1H826.8M826.8 428.9H828M829.1 420.8V431.6M827.9 428.9H829.1M829.1 424.2H830.3M831.3 419.2V426.4M830.1 424.2H831.3M831.3 421.3H832.5M833.6 419.4V434.9M832.4 421.3H833.6M833.6 433.6H834.8M835.8 432.8V441.2M834.6 433.6H835.8M835.8 439H837M838.1 435.6V441.1M836.9 439H838.1M838.1 440H839.3M840.3 430.1V442.5M839.1 440H840.3M840.3 432.2H841.5M842.6 414.5V433.4M841.4 432.2H842.6M842.6 420.1H843.8M844.8 419.3V428.5M843.6 420.1H844.8M844.8 425.3H846M847.1 422.4V436.2M845.9 425.3H847.1M847.1 433.5H848.3M849.3 430.7V441.7M848.1 433.5H849.3M849.3 439.7H850.5M851.6 437V445.6M850.4 439.7H851.6M851.6 443.6H852.8M853.8 442.3V453.3M852.6 443.6H853.8M853.8 452H855M856.1 450.4V462.1M854.9 452H856.1M856.1 459.3H857.3M858.3 455.7V463.9M857.1 459.3H858.3M858.3 458.4H859.5M860.6 446.1V460.3M859.4 458.4H860.6M860.6 448.4H861.8M862.9 443.6V450.9M861.7 448.4H862.9M862.9 447H864.1M865.1 443.6V461.3M863.9 447H865.1M865.1 454H866.3M867.4 452.6V457.4M866.2 454H867.4M867.4 456H868.6M869.6 444.7V459.3M868.4 456H869.6M869.6 448.5H870.8M871.9 441.5V450.1M870.7 448.5H871.9M871.9 444.7H873.1M874.1 438.4V447.9M872.9 444.7H874.1M874.1 439.7H875.3M876.4 437.2V448.4M875.2 439.7H876.4M876.4 444.9H877.6M878.6 442.9V463.1M877.4 444.9H878.6M878.6 456H879.8M880.9 449.5V458.8M879.7 456H880.9M880.9 451.4H882.1M883.1 437.7V453M881.9 451.4H883.1M883.1 440.2H884.3M885.4 421.6V443.4M884.2 440.2H885.4M885.4 428.6H886.6M887.6 427.5V432.8M886.4 428.6H887.6M887.6 432H888.8M889.9 430.4V443.8M888.7 432H889.9M889.9 442.7H891.1M892.1 427.9V443.5M890.9 442.7H892.1M892.1 428.6H893.3M894.4 411.1V431.4M893.2 428.6H894.4M894.4 415.1H895.6M896.6 414.2V437.4M895.4 415.1H896.6M896.6 427.3H897.8M898.9 424.3V524.2M897.7 427.3H898.9M898.9 492.1H900.1M901.1 468.1V495.2M899.9 492.1H901.1M901.1 468.9H902.3M903.4 466.5V472.3M902.2 468.9H903.4M903.4 471H904.6M905.6 456.1V471.8M904.4 471H905.6M905.6 457.1H906.8M907.9 445.2V460.1M906.7 457.1H907.9M907.9 447.7H909.1M910.1 418.3V449.2M908.9 447.7H910.1M910.1 420.8H911.3M912.4 417.9V440.9M911.2 420.8H912.4M912.4 439.6H913.6M914.6 438V451.9M913.4 439.6H914.6M914.6 446.4H915.8M916.9 426V449.1M915.7 446.4H916.9M916.9 432.8H918.1M919.1 414V434.4M917.9 432.8H919.1M919.1 415.7H920.3M921.4 396.8V418.1M920.2 415.7H921.4M921.4 399.9H922.6M923.6 369.2V401.7M922.4 399.9H923.6M923.6 373.3H924.8M925.9 371.6V393.7M924.7 373.3H925.9M925.9 387.1H927.1M928.2 384.6V388.4M927 387.1H928.2M928.2 386.8H929.4M930.4 375.5V388M929.2 386.8H930.4M930.4 380.5H931.6M932.7 379.8V396.5M931.5 380.5H932.7M932.7 395.3H933.9M934.9 394.6V412.7M933.7 395.3H934.9M934.9 410.6H936.1M937.2 403.9V413.9M936 410.6H937.2M937.2 405.9H938.4M939.4 404.3V434M938.2 405.9H939.4M939.4 427.1H940.6M941.7 420.7V430.5M940.5 427.1H941.7M941.7 422.1H942.9M943.9 402.3V424.2M942.7 422.1H943.9M943.9 405.3H945.1M946.2 404.3V438.7M945 405.3H946.2M946.2 436.2H947.4M948.4 421.6V439.1M947.2 436.2H948.4M948.4 424.3H949.6M950.7 405.9V426M949.5 424.3H950.7M950.7 408.3H951.9M952.9 389.3V409.3M951.7 408.3H952.9M952.9 396.1H954.1M955.2 393V424.6M954 396.1H955.2M955.2 423.8H956.4M957.4 416.8V425.9M956.2 423.8H957.4M957.4 420H958.6M959.7 414.2V423.2M958.5 420H959.7M959.7 417.8H960.9M961.9 415.6V433.9M960.7 417.8H961.9M961.9 431.1H963.1M964.2 428.3V451.6M963 431.1H964.2M964.2 449H965.4M966.4 445.6V452.1M965.2 449H966.4M966.4 446.8H967.6M968.7 434.6V449.5M967.5 446.8H968.7M968.7 437.2H969.9M970.9 409.1V439.5M969.7 437.2H970.9M970.9 413.6H972.1M973.2 408.8V415.6M972 413.6H973.2M973.2 409.9H974.4M975.4 403.8V411.4M974.2 409.9H975.4M975.4 408.4H976.6M977.7 405.7V422M976.5 408.4H977.7M977.7 418.9H978.9M979.9 417.5V428.6M978.7 418.9H979.9M979.9 422.5H981.1M982.2 408.5V423.7M981 422.5H982.2M982.2 410.6H983.4M984.4 396.6V413.4M983.2 410.6H984.4M984.4 404.1H985.6M986.7 403.1V440.4M985.5 404.1H986.7M986.7 429.5H987.9M988.9 426.1V437.2M987.7 429.5H988.9M988.9 434.2H990.1M991.2 424.6V436.1M990 434.2H991.2M991.2 427.3H992.4M993.4 421.5V432M992.2 427.3H993.4M993.4 430.8H994.6M995.7 429V446.6M994.5 430.8H995.7M995.7 445.8H996.9M998 442.7V451.1M996.8 445.8H998M998 445.3H999.2M1000.2 435.1V447.3M999 445.3H1000.2M1000.2 437.5H1001.4M1002.5 418.2V440.3M1001.3 437.5H1002.5M1002.5 423.2H1003.7M1004.7 419.9V439.7M1003.5 423.2H1004.7M1004.7 437.7H1005.9M1007 433V445.3M1005.8 437.7H1007M1007 434.9H1008.2M1009.2 418.5V438.1M1008 434.9H1009.2M1009.2 421.2H1010.4M1011.5 402.9V423.9M1010.3 421.2H1011.5M1011.5 408H1012.7M1013.7 405.5V432M1012.5 408H1013.7M1013.7 419.4H1014.9M1016 418.4V432M1014.8 419.4H1016M1016 430.2H1017.2M1018.2 427.3V438.2M1017 430.2H1018.2M1018.2 435.5H1019.4M1020.5 427V437.5M1019.3 435.5H1020.5M1020.5 428.9H1021.7M1022.7 409.6V430.7M1021.5 428.9H1022.7M1022.7 415.1H1023.9M1025 413.9V420.9M1023.8 415.1H1025M1025 418.4H1026.2M1027.2 415.5V433.8M1026 418.4H1027.2M1027.2 428.3H1028.4M1029.5 427.5V439.2M1028.3 428.3H1029.5M1029.5 431.7H1030.7M1031.7 430.5V434.6M1030.5 431.7H1031.7M1031.7 431.7H1032.9M1034 426.3V434.1M1032.8 431.7H1034M1034 427.3H1035.2M1036.2 417.8V439.7M1035 427.3H1036.2M1036.2 423.5H1037.4M1038.5 415V425.7M1037.3 423.5H1038.5M1038.5 418H1039.7M1040.7 403.2V421.4M1039.5 418H1040.7M1040.7 408H1041.9M1043 350.2V414.8M1041.8 408H1043M1043 370.4H1044.2M1045.2 369.3V380.5M1044 370.4H1045.2M1045.2 373H1046.4M1047.5 355V374.9M1046.3 373H1047.5M1047.5 356.4H1048.7M1049.7 329.3V358.3M1048.5 356.4H1049.7M1049.7 331.5H1050.9M1052 329.8V348.4M1050.8 331.5H1052M1052 344.5H1053.2M1054.2 323.7V347.3M1053 344.5H1054.2M1054.2 329.3H1055.4M1056.5 229.7V332.3M1055.3 329.3H1056.5M1056.5 250.9H1057.7M1058.7 249.1V281.3M1057.5 250.9H1058.7M1058.7 263.2H1059.9M1061 260.2V322.5M1059.8 263.2H1061M1061 310.2H1062.2M1063.3 283V312.4M1062.1 310.2H1063.3M1063.3 288.2H1064.5" fill="none" stroke="#fcb02e" stroke-width="1.85"/>
<!-- gold -->
<polyline points="2,582.5 7.5,562.5 12.5,561 17.5,556 24,546 27.5,550 30,570 32.5,560 37.5,561 42.5,572.5 46,582.5 50,574 54,580 60,590 65,599 67.5,595 72.5,600 77.5,580 82.5,576 86,585 89,597.5 94,602.5 97.5,590 100,580 102.5,589 107.5,590 112.5,600 117.5,602.5 122.5,595 127.5,605 132.5,605 137.5,610 145,611 151,597.5 156,607.5 164,616 170,605 175,585 179,576 182.5,590 187.5,595 192.5,585 200,589 207.5,585 215,589 220,592.5 225,587.5 235,591 242.5,585 247.5,579 252.5,582.5 257.5,589 265,592.5 270,600 275,607.5 282.5,615 287.5,620 291,615 295,637.5 300,632 307,635 314,646 317,635 330,642 335,655 340,662 344,635 350,640 354,637 360,650 364,641 372,652 385,660 397,637 402,647 415,620 420,630 427,622 434,599 440,610 444,600 450,595 457,576 461,582 465,572 470,586 475,585 485,561 490,570 497,574 504,567 510,547 515,520 522,496 534,509 540,497 547,491 555,495 561,475 562.5,462.5 566,455 571,425 576,442.5 580,435 585,450 589,470 591,450 595,432.5 600,425 604,440 607.5,430 612.5,427.5 616,414 619,393 624,405 630,388 634,382.5 637.5,388 642.5,370 647.5,358 651,367.5 656,344 660,346 664,330 667.5,312.5 671,327.5 675,337.5 679,322.5 684,327.5 687.5,342.5 695,320 700,327.5 705,337.5 710,342.5 714,355 716,382.5 720,365 725,375 729,386 734,372.5 740,377.5 744,370.5 750,387 755,392 757.5,380 762.5,392.5 767.5,395 772.5,400 777.5,399 782.5,410 787.5,386 792.5,375 795,383 799,370 805,375 810,394 815,382.5 820,380 827.5,372.5 832.5,377.5 840,367.5 847.5,375 857.5,389 862.5,382.5 868,371.5 874,376 877.5,364 882.5,347.5 889,352.5 894,340.5 900,337 903.7,307.4 908.7,301 913.7,315 917.5,317.4 921.2,307.4 925,326 930,307.4 935,317.4 941,318.6 946,315 952.4,302.4 959.9,315 967.3,332.3 972.3,315 977.3,307.4 981,300 986,303.7 993.5,310 996.5,297 1000,293 1006,292 1009.7,274.6 1014.7,271 1022,242 1027,249.7 1036,211 1044.6,207 1047,182 1054.6,157 1058.8,126 1060.8,147 1062.6,146" fill="none" stroke="#b4b4b8" stroke-width="1.8" stroke-linejoin="round"/>
<!-- band lines -->
<polyline points="137,548 140,549.6 143,551.2 146,552.8 149,554.4 152,556 155,557.7 158.1,559.4 161.1,561.1 164.1,562.9 167.1,564.6 170.1,566.3 173.1,568 176.1,569.5 179.1,571 182.1,572.5 185.1,574 188.1,575.5 191.1,576.9 194.1,578.2 197.1,579.5 200.2,580.6 203.2,581.6 206.2,582.5 209.2,583.4 212.2,584.4 215.2,585.2 218.2,586 221.2,586.7 224.2,587.3 227.2,587.7 230.2,588 233.2,588 236.2,588 239.3,588 242.3,588 245.3,588 248.3,588 251.3,588 254.3,588 257.3,588 260.3,588 263.3,587.8 266.3,587.4 269.3,586.9 272.3,586.4 275.3,585.8 278.4,585.2 281.4,584.7 284.4,584.3 287.4,584.1 290.4,584 293.4,584 296.4,584 299.4,584 302.4,584 305.4,584 308.4,584 311.4,584 314.4,584 317.4,584 320.5,584 323.5,584.2 326.5,584.5 329.5,585 332.5,585.5 335.5,585.9 338.5,586.3 341.5,586.5 344.5,586.4 347.5,586 350.5,585.3 353.5,584.5 356.5,583.5 359.6,582.5 362.6,581.4 365.6,580.2 368.6,578.7 371.6,577.1 374.6,575.6 377.6,574.1 380.6,572.4 383.6,570.8 386.6,569.4 389.6,568.3 392.6,567.4 395.6,566.7 398.6,565.9 401.7,565 404.7,563.9 407.7,562.8 410.7,561.6 413.7,560.4 416.7,559.1 419.7,557.7 422.7,556.2 425.7,554.6 428.7,552.9 431.7,551.1 434.7,549.2 437.7,547.1 440.8,544.9 443.8,542.6 446.8,540.2 449.8,537.7 452.8,534.9 455.8,531.8 458.8,528.4 461.8,524.8 464.8,521.2 467.8,517.6 470.8,514.2 473.8,511.1 476.8,508.3 479.9,505.7 482.9,503.1 485.9,500.7 488.9,498.3 491.9,496 494.9,493.7 497.9,491.5 500.9,489.4 503.9,487.3 506.9,485.4 509.9,483.6 512.9,481.8 515.9,479.8 518.9,477.8 522,475.4 525,472.8 528,469.9 531,466.7 534,463.3 537,459.8 540,456.2 543,452.5 546,448.7 549,444.9 552,440.9 555,436.7 558,432.5 561.1,428.2 564.1,423.9 567.1,419.4 570.1,414.5 573.1,409.5 576.1,404.9 579.1,401 582.1,397.8 585.1,395.4 588.1,394.4 591.1,393.9 594.1,393.5 597.1,393.1 600.1,392.5 603.2,391.5 606.2,390.3 609.2,389 612.2,387.5 615.2,385.9 618.2,384.2 621.2,382.3 624.2,380.2 627.2,378 630.2,375.8 633.2,373.7 636.2,371.7 639.2,369.6 642.3,367.6 645.3,365.5 648.3,363.6 651.3,361.7 654.3,359.8 657.3,358 660.3,356.3 663.3,354.8 666.3,353.5 669.3,352.3 672.3,351.2 675.3,350.2 678.3,349.4 681.4,348.7 684.4,348 687.4,347.2 690.4,346.6 693.4,346.1 696.4,345.7 699.4,345.5 702.4,345.7 705.4,346.5 708.4,347.6 711.4,348.8 714.4,349.6 717.4,350 720.4,349.5 723.5,348.4 726.5,347.1 729.5,346.1 732.5,345.5 735.5,344.9 738.5,344.4 741.5,343.9 744.5,343.6 747.5,343.5 750.5,343.6 753.5,344 756.5,344.6 759.5,345.3 762.6,346 765.6,347 768.6,348.3 771.6,349.9 774.6,351.7 777.6,353.5 780.6,355.4 783.6,357.3 786.6,359.4 789.6,361.5 792.6,363.8 795.6,366 798.6,368.1 801.7,370.1 804.7,372 807.7,373.9 810.7,375.7 813.7,377.5 816.7,379.4 819.7,381.3 822.7,383.3 825.7,385.3 828.7,387.3 831.7,389.3 834.7,391.4 837.7,393.4 840.7,395.5 843.8,397.6 846.8,399.6 849.8,401.7 852.8,403.8 855.8,405.9 858.8,408.1 861.8,410.4 864.8,412.8 867.8,415.3 870.8,417.9 873.8,420.4 876.8,422.7 879.8,424.9 882.9,427 885.9,429 888.9,431 891.9,432.6 894.9,433.7 897.9,434.5 900.9,435.2 903.9,435.7 906.9,436 909.9,435.9 912.9,435.7 915.9,435.3 918.9,434.9 921.9,434.6 925,434.5 928,434.5 931,434.5 934,434.5 937,434.5 940,434.5 943,434.5 946,434.5 949,434.5 952,434.5 955,434.4 958,434.4 961,434.3 964.1,434.1 967.1,434 970.1,433.8 973.1,433.6 976.1,433.4 979.1,433.1 982.1,432.8 985.1,432.3 988.1,431.9 991.1,431.4 994.1,430.9 997.1,430.4 1000.1,430 1003.2,429.6 1006.2,429.3 1009.2,428.9 1012.2,428.6 1015.2,428.3 1018.2,427.9 1021.2,427.5 1024.2,427.1 1027.2,426.6 1030.2,426.2 1033.2,425.6 1036.2,424.8 1039.2,423.5 1042.2,421 1045.3,417.9 1048.3,414.7 1051.3,411.8 1054.3,408.9 1057.3,405.9 1060.3,402.8 1063.3,399.7" fill="none" stroke="#3a8de6" stroke-width="2.2" stroke-linejoin="round"/>
<polyline points="137,434 140,436.5 143,438.8 146,441.1 149,443.2 152,445.2 155,447 158.1,448.8 161.1,450.4 164.1,452 167.1,453.5 170.1,454.9 173.1,456.3 176.1,457.6 179.1,458.9 182.1,460.2 185.1,461.4 188.1,462.6 191.1,463.8 194.1,464.9 197.1,465.9 200.2,466.9 203.2,467.7 206.2,468.4 209.2,469.2 212.2,469.9 215.2,470.5 218.2,471.2 221.2,471.7 224.2,472.2 227.2,472.6 230.2,472.9 233.2,473.1 236.2,473.3 239.3,473.4 242.3,473.6 245.3,473.7 248.3,473.8 251.3,473.9 254.3,474 257.3,474 260.3,474 263.3,473.8 266.3,473.4 269.3,472.9 272.3,472.4 275.3,471.8 278.4,471.2 281.4,470.7 284.4,470.3 287.4,470.1 290.4,470 293.4,470 296.4,470 299.4,470 302.4,470 305.4,470 308.4,470 311.4,470 314.4,470 317.4,470 320.5,470 323.5,470.1 326.5,470.4 329.5,470.8 332.5,471.3 335.5,471.8 338.5,472.2 341.5,472.6 344.5,472.9 347.5,473 350.5,472.8 353.5,472.2 356.5,471.4 359.6,470.5 362.6,469.5 365.6,468.1 368.6,466.6 371.6,464.8 374.6,463.1 377.6,461.1 380.6,458.7 383.6,456.5 386.6,454.9 389.6,454.4 392.6,454.3 395.6,454.2 398.6,454.1 401.7,453.8 404.7,453 407.7,451.8 410.7,450.5 413.7,449.1 416.7,447.8 419.7,446.3 422.7,444.8 425.7,443.2 428.7,441.5 431.7,439.8 434.7,438 437.7,436 440.8,433.9 443.8,431.7 446.8,429.2 449.8,426.6 452.8,423.8 455.8,420.7 458.8,417.3 461.8,413.6 464.8,410 467.8,406.5 470.8,403 473.8,399.7 476.8,396.4 479.9,393.4 482.9,390.4 485.9,387.6 488.9,385 491.9,382.7 494.9,380.8 497.9,379.1 500.9,377.3 503.9,375.4 506.9,373.5 509.9,371.4 512.9,369.3 515.9,366.9 518.9,364.1 522,361.1 525,358 528,354.8 531,351.5 534,348.1 537,344.7 540,341.2 543,337.7 546,334.3 549,331 552,328 555,325.2 558,322.4 561.1,319.3 564.1,315.3 567.1,310 570.1,304.3 573.1,299 576.1,293.1 579.1,287.6 582.1,284.2 585.1,283.2 588.1,282.5 591.1,282 594.1,281.6 597.1,281.2 600.1,280.5 603.2,279.5 606.2,278.3 609.2,276.8 612.2,275.3 615.2,273.6 618.2,271.8 621.2,269.9 624.2,268 627.2,266 630.2,263.7 633.2,261.2 636.2,258.5 639.2,255.8 642.3,253.2 645.3,250.7 648.3,248.6 651.3,246.8 654.3,245 657.3,243.3 660.3,241.7 663.3,240.2 666.3,238.8 669.3,237.7 672.3,236.7 675.3,235.9 678.3,235.3 681.4,234.7 684.4,234.1 687.4,233.6 690.4,233.2 693.4,232.8 696.4,232.6 699.4,232.5 702.4,232.7 705.4,233.4 708.4,234.5 711.4,235.7 714.4,237.6 717.4,238.7 720.4,238.2 723.5,236.9 726.5,235.3 729.5,233.9 732.5,233 735.5,232 738.5,231 741.5,230.2 744.5,229.7 747.5,229.5 750.5,229.7 753.5,230.1 756.5,230.8 759.5,231.6 762.6,232.5 765.6,233.8 768.6,235.6 771.6,237.7 774.6,239.7 777.6,241.7 780.6,243.6 783.6,245.6 786.6,247.7 789.6,249.7 792.6,251.9 795.6,254.2 798.6,256.5 801.7,258.7 804.7,260.8 807.7,262.7 810.7,264.4 813.7,266.1 816.7,267.7 819.7,269.4 822.7,271.1 825.7,272.9 828.7,274.9 831.7,277 834.7,279.1 837.7,281.3 840.7,283.4 843.8,285.6 846.8,287.8 849.8,289.8 852.8,291.9 855.8,293.9 858.8,295.9 861.8,297.9 864.8,299.9 867.8,301.9 870.8,303.9 873.8,306 876.8,308 879.8,309.9 882.9,311.8 885.9,313.7 888.9,315.4 891.9,317 894.9,318.4 897.9,319.7 900.9,320.8 903.9,321.8 906.9,322.7 909.9,323.4 912.9,323.6 915.9,323.2 918.9,322.4 921.9,321.5 925,321 928,320.8 931,320.7 934,320.5 937,320.4 940,320.3 943,320.3 946,320.2 949,320 952,319.9 955,319.8 958,319.6 961,319.5 964.1,319.3 967.1,319.1 970.1,318.9 973.1,318.7 976.1,318.5 979.1,318.3 982.1,318 985.1,317.7 988.1,317.3 991.1,317 994.1,316.6 997.1,316.3 1000.1,316 1003.2,315.7 1006.2,315.5 1009.2,315.2 1012.2,315 1015.2,314.7 1018.2,314.4 1021.2,314.1 1024.2,313.7 1027.2,313.1 1030.2,312.3 1033.2,311.3 1036.2,310.2 1039.2,308.8 1042.2,307.1 1045.3,304.7 1048.3,302.1 1051.3,299.6 1054.3,296.9 1057.3,294.2 1060.3,291.9 1063.3,290" fill="none" stroke="#d92b52" stroke-width="2.3" stroke-linejoin="round"/>
<polyline points="137,611 140,612.6 143,614.2 146,615.8 149,617.4 152,619.1 155,620.8 158.1,622.5 161.1,624.3 164.1,626.1 167.1,627.9 170.1,629.7 173.1,631.4 176.1,632.9 179.1,634.4 182.1,635.9 185.1,637.4 188.1,638.8 191.1,640.2 194.1,641.6 197.1,642.8 200.2,643.9 203.2,644.9 206.2,645.8 209.2,646.8 212.2,647.7 215.2,648.6 218.2,649.4 221.2,650.1 224.2,650.7 227.2,651.1 230.2,651.4 233.2,651.4 236.2,651.4 239.3,651.4 242.3,651.4 245.3,651.4 248.3,651.4 251.3,651.4 254.3,651.4 257.3,651.4 260.3,651.4 263.3,651.2 266.3,650.8 269.3,650.2 272.3,649.6 275.3,649 278.4,648.3 281.4,647.8 284.4,647.3 287.4,647.1 290.4,647 293.4,647 296.4,647 299.4,647 302.4,647 305.4,647 308.4,647 311.4,647 314.4,647 317.4,647 320.5,647 323.5,647.2 326.5,647.6 329.5,648.1 332.5,648.7 335.5,649.3 338.5,649.7 341.5,650 344.5,649.9 347.5,649.3 350.5,648.4 353.5,647.2 356.5,645.9 359.6,644.6 362.6,643.3 365.6,641.8 368.6,640.1 371.6,638.4 374.6,636.9 377.6,635.5 380.6,634 383.6,632.7 386.6,631.6 389.6,630.7 392.6,630 395.6,629.4 398.6,628.8 401.7,628.1 404.7,627.3 407.7,626.5 410.7,625.6 413.7,624.6 416.7,623.4 419.7,622 422.7,620.6 425.7,619 428.7,617.3 431.7,615.5 434.7,613.6 437.7,611.6 440.8,609.5 443.8,607 446.8,604.2 449.8,601.2 452.8,598 455.8,594.7 458.8,591.4 461.8,588.2 464.8,585.2 467.8,582.3 470.8,579.3 473.8,576.3 476.8,573.4 479.9,570.6 482.9,567.9 485.9,565.3 488.9,563 491.9,560.9 494.9,559 497.9,557.1 500.9,555.3 503.9,553.4 506.9,551.4 509.9,549.1 512.9,546.4 515.9,543.5 518.9,540.3 522,537 525,533.6 528,530.1 531,526.7 534,523.3 537,519.9 540,516.4 543,512.9 546,509.4 549,506.1 552,502.9 555,500.2 558,497.5 561.1,494.6 564.1,491.2 567.1,486.9 570.1,481.5 573.1,475.8 576.1,469.6 579.1,463.7 582.1,460.4 585.1,458.3 588.1,457.5 591.1,457.1 594.1,456.8 597.1,456.5 600.1,456 603.2,455 606.2,453.7 609.2,452.2 612.2,450.5 615.2,448.9 618.2,447.3 621.2,445.5 624.2,443.7 627.2,441.8 630.2,439.9 633.2,437.7 636.2,435.5 639.2,433.1 642.3,430.7 645.3,428.4 648.3,426.2 651.3,424.1 654.3,422.1 657.3,420.2 660.3,418.4 663.3,416.8 666.3,415.4 669.3,414.2 672.3,413.1 675.3,412.1 678.3,411.3 681.4,410.7 684.4,410.2 687.4,409.7 690.4,409.2 693.4,408.9 696.4,408.6 699.4,408.5 702.4,408.6 705.4,409.1 708.4,409.8 711.4,410.7 714.4,412 717.4,414.1 720.4,415 723.5,413.9 726.5,411.9 729.5,410.2 732.5,409.2 735.5,408.2 738.5,407.4 741.5,406.6 744.5,406.2 747.5,406 750.5,406.1 753.5,406.4 756.5,406.9 759.5,407.4 762.6,408.2 765.6,409.5 768.6,411.1 771.6,413 774.6,414.8 777.6,416.6 780.6,418.5 783.6,420.6 786.6,422.7 789.6,424.7 792.6,426.8 795.6,428.9 798.6,431.1 801.7,433.2 804.7,435.3 807.7,437.3 810.7,439.2 813.7,440.9 816.7,442.6 819.7,444.2 822.7,445.8 825.7,447.4 828.7,449.2 831.7,451.1 834.7,453.3 837.7,455.5 840.7,457.8 843.8,460.2 846.8,462.5 849.8,464.8 852.8,467.1 855.8,469.4 858.8,471.7 861.8,474 864.8,476.2 867.8,478.4 870.8,480.6 873.8,482.7 876.8,484.8 879.8,486.8 882.9,488.7 885.9,490.5 888.9,492.2 891.9,493.8 894.9,495.3 897.9,496.7 900.9,497.8 903.9,499 906.9,500 909.9,500.8 912.9,501 915.9,500.6 918.9,499.7 921.9,498.7 925,497.8 928,497.5 931,497.4 934,497.3 937,497.2 940,497.2 943,497.1 946,497.1 949,497 952,497 955,496.9 958,496.9 961,496.8 964.1,496.8 967.1,496.7 970.1,496.7 973.1,496.6 976.1,496.4 979.1,496.1 982.1,495.6 985.1,495 988.1,494.4 991.1,493.6 994.1,492.6 997.1,491.7 1000.1,491 1003.2,490.5 1006.2,490 1009.2,489.6 1012.2,489.2 1015.2,488.8 1018.2,488.2 1021.2,487.6 1024.2,487 1027.2,486.2 1030.2,485.4 1033.2,484.5 1036.2,483.4 1039.2,482.3 1042.2,481.2 1045.3,479.9 1048.3,478.1 1051.3,475.3 1054.3,472.2 1057.3,469.4 1060.3,466.6 1063.3,463.8" fill="none" stroke="#1ccc28" stroke-width="2.4" stroke-linejoin="round"/>

<!-- frame -->
<rect x="0" y="671" width="1094" height="2.2" fill="#dcdcdc"/>
<rect x="1091.3" y="97" width="2.4" height="576" fill="#d2d2d2"/>
<rect x="80.6" y="673" width="1.8" height="55.5" fill="#b4b4b4"/><rect x="215.7" y="673" width="1.8" height="55.5" fill="#b4b4b4"/><rect x="350.8" y="673" width="1.8" height="55.5" fill="#b4b4b4"/><rect x="485.9" y="673" width="1.8" height="55.5" fill="#b4b4b4"/><rect x="621" y="673" width="1.8" height="55.5" fill="#b4b4b4"/><rect x="756.1" y="673" width="1.8" height="55.5" fill="#b4b4b4"/><rect x="891.2" y="673" width="1.8" height="55.5" fill="#b4b4b4"/><rect x="1026.3" y="673" width="1.8" height="55.5" fill="#b4b4b4"/>
<g font-size="26.2" fill="#f2f2f2">
<text x="107.03" y="723.7" textLength="84.20" lengthAdjust="spacingAndGlyphs">'90-'94</text><text x="242.12" y="723.7" textLength="84.77" lengthAdjust="spacingAndGlyphs">'95-'99</text><text x="377.23" y="723.7" textLength="84.20" lengthAdjust="spacingAndGlyphs">'00-'04</text><text x="512.32" y="723.7" textLength="84.77" lengthAdjust="spacingAndGlyphs">'05-'09</text><text x="647.43" y="723.7" textLength="84.20" lengthAdjust="spacingAndGlyphs">'10-'14</text><text x="782.52" y="723.7" textLength="84.77" lengthAdjust="spacingAndGlyphs">'15-'19</text><text x="917.63" y="723.7" textLength="84.20" lengthAdjust="spacingAndGlyphs">'20-'24</text>
</g>

<!-- y axis -->
<circle cx="1092.5" cy="298.3" r="2" fill="#f0f0f0"/>
<path d="M1092.5 100L1103.5 103.2L1092.5 106.4Z" fill="#f4f4f4"/><path d="M1092.5 132.8L1103.5 136L1092.5 139.2Z" fill="#f4f4f4"/><path d="M1092.5 173L1103.5 176.2L1092.5 179.4Z" fill="#f4f4f4"/><path d="M1092.5 223.5L1103.5 226.7L1092.5 229.9Z" fill="#f4f4f4"/><path d="M1092.5 418.5L1103.5 421.7L1092.5 424.9Z" fill="#f4f4f4"/><path d="M1092.5 508.8L1103.5 512L1092.5 515.2Z" fill="#f4f4f4"/><path d="M1092.5 541L1103.5 544.2L1092.5 547.4Z" fill="#f4f4f4"/><path d="M1092.5 580.3L1103.5 583.5L1092.5 586.7Z" fill="#f4f4f4"/><path d="M1092.5 631.2L1103.5 634.4L1092.5 637.6Z" fill="#f4f4f4"/>
<g font-size="25" fill="#f4f4f4" stroke="#f4f4f4" stroke-width="0.25">
<text x="1105.61" y="119.7" textLength="55.20" lengthAdjust="spacingAndGlyphs">6000</text><text x="1105.81" y="145.5" textLength="54.99" lengthAdjust="spacingAndGlyphs">5000</text><text x="1106.31" y="185.4" textLength="54.48" lengthAdjust="spacingAndGlyphs">4000</text><text x="1105.91" y="236.0" textLength="54.89" lengthAdjust="spacingAndGlyphs">3000</text><text x="1104.89" y="430.7" textLength="55.93" lengthAdjust="spacingAndGlyphs">1000</text><text x="1105.64" y="520.3" textLength="40.45" lengthAdjust="spacingAndGlyphs">600</text><text x="1105.84" y="552.5" textLength="40.24" lengthAdjust="spacingAndGlyphs">500</text><text x="1106.32" y="592.0" textLength="39.74" lengthAdjust="spacingAndGlyphs">400</text><text x="1105.93" y="642.6999999999999" textLength="40.14" lengthAdjust="spacingAndGlyphs">300</text>
</g>

<!-- value flags -->
<path d="M1095.5 146.2L1103.5 132.4H1197.3V160.1H1103.5Z" fill="#a9a9a9" />
<g font-size="24" fill="#0a0a0a" stroke="#0a0a0a" stroke-width="0.45"><text x="1104.98" y="155.2" textLength="55.35" lengthAdjust="spacingAndGlyphs">4745</text></g>

<path d="M1095.3 287.5L1103.5 272.8H1197.3V300H1103.5Z" fill="#c62a55"/>
<path d="M1095.3 292L1103.5 277H1197.3V304H1103.5Z" fill="#f8b81e" stroke="#4a1020" stroke-width="0.8"/>
<rect x="1102.6" y="283.9" width="94.7" height="29.3" fill="#f9a51c" stroke="#2c1700" stroke-width="1.2"/>
<path d="M1095.3 298.3L1102 290.8V305.8Z" fill="#f9a51c"/>
<g font-size="24.4" fill="#1c0f00" stroke="#1c0f00" stroke-width="0.5"><text x="1105.39" y="306.6" textLength="88.92" lengthAdjust="spacingAndGlyphs">2000.00</text></g>

<path d="M1095.5 400.9L1103.5 387H1197.3V414.8H1103.5Z" fill="#3d9dff" />
<g font-size="24" fill="#06123a" stroke="#06123a" stroke-width="0.45"><text x="1105.91" y="409.8" textLength="54.05" lengthAdjust="spacingAndGlyphs">1121</text></g>

<path d="M1095.5 463.7L1103.5 449.4H1197.3V478H1103.5Z" fill="#00f000" />
<g font-size="24" fill="#003c00" stroke="#003c00" stroke-width="0.45"><text x="1106.22" y="472.2" textLength="39.41" lengthAdjust="spacingAndGlyphs">785</text></g>

<!-- Log watermark -->
<g transform="translate(1153,0) rotate(90)" font-size="48.3" fill="#ffffff" fill-opacity="0.5" stroke="#ffffff" stroke-opacity="0.5" stroke-width="0.4">
<text x="348.28" y="0" textLength="74.78" lengthAdjust="spacingAndGlyphs">Log</text>
</g>

<!-- legend -->
<g>
<path d="M15 118.5h10v10h-10zM17.6 121.2h4.8v4.6h-4.8z" fill="#8a8a8a" fill-rule="evenodd"/>
<rect x="19" y="128.5" width="2" height="9" fill="#8a8a8a"/>
<rect x="28.3" y="115.5" width="17.4" height="17" fill="#f9a11b"/>
<rect x="28.3" y="143" width="17.4" height="17" fill="#3f9fff"/>
<rect x="28.3" y="170.5" width="17.4" height="16.8" fill="#b0b0b0"/>
<rect x="522.5" y="115.5" width="17" height="17" fill="#f5233f"/>
<rect x="522.5" y="143" width="17" height="17" fill="#00f518"/>
<g font-size="24.8" fill="#f6f6f6" stroke="#f6f6f6" stroke-width="0.3">
<text x="49.89" y="133.2" textLength="101.78" lengthAdjust="spacingAndGlyphs">Platinum</text><text x="158.96" y="133.2" textLength="48.35" lengthAdjust="spacingAndGlyphs">Spot</text><text x="216.29" y="133.2" textLength="55.25" lengthAdjust="spacingAndGlyphs">$/Oz</text><text x="282.47" y="133.2" textLength="10.02" lengthAdjust="spacingAndGlyphs">-</text><text x="299.35" y="133.2" textLength="89.49" lengthAdjust="spacingAndGlyphs">monthly</text><text x="399.57" y="133.2" textLength="36.58" lengthAdjust="spacingAndGlyphs">bar</text>
<text x="50.35" y="160.7" textLength="44.31" lengthAdjust="spacingAndGlyphs">MAE</text><text x="101.20" y="160.7" textLength="92.90" lengthAdjust="spacingAndGlyphs">Avg(60)</text><text x="203.69" y="160.7" textLength="49.33" lengthAdjust="spacingAndGlyphs">(XPT</text><text x="264.32" y="160.7" textLength="58.29" lengthAdjust="spacingAndGlyphs">BGN)</text><text x="445.17" y="160.7" textLength="54.28" lengthAdjust="spacingAndGlyphs">1121</text>
<text x="50.84" y="188.2" textLength="50.69" lengthAdjust="spacingAndGlyphs">Gold</text><text x="109.46" y="188.2" textLength="48.15" lengthAdjust="spacingAndGlyphs">Spot</text><text x="166.29" y="188.2" textLength="55.76" lengthAdjust="spacingAndGlyphs">$/Oz</text>
<text x="544.17" y="133.2" textLength="43.67" lengthAdjust="spacingAndGlyphs">MAE</text><text x="593.50" y="133.2" textLength="82.73" lengthAdjust="spacingAndGlyphs">UB(90)</text><text x="685.95" y="133.2" textLength="50.99" lengthAdjust="spacingAndGlyphs">(XPT</text><text x="747.05" y="133.2" textLength="60.41" lengthAdjust="spacingAndGlyphs">BGN)</text><text x="814.31" y="133.2" textLength="54.65" lengthAdjust="spacingAndGlyphs">2131</text>
<text x="544.17" y="160.7" textLength="43.67" lengthAdjust="spacingAndGlyphs">MAE</text><text x="594.86" y="160.7" textLength="79.68" lengthAdjust="spacingAndGlyphs">LB(30)</text><text x="682.64" y="160.7" textLength="51.09" lengthAdjust="spacingAndGlyphs">(XPT</text><text x="744.09" y="160.7" textLength="59.35" lengthAdjust="spacingAndGlyphs">BGN)</text><text x="828.64" y="160.7" textLength="40.11" lengthAdjust="spacingAndGlyphs">785</text>
</g>
</g>

<!-- footer -->
<g font-size="14" fill="#ececec" stroke="#ececec" stroke-width="0.25">
<text x="4.22" y="746.6" textLength="25.49" lengthAdjust="spacingAndGlyphs">XPT</text><text x="34.75" y="746.6" textLength="47.29" lengthAdjust="spacingAndGlyphs">Curncy</text><text x="89.13" y="746.6" textLength="64.27" lengthAdjust="spacingAndGlyphs">(Platinum</text><text x="160.53" y="746.6" textLength="32.08" lengthAdjust="spacingAndGlyphs">Spot</text><text x="203.68" y="746.6" textLength="41.11" lengthAdjust="spacingAndGlyphs">$/Oz)</text><text x="249.57" y="746.6" textLength="60.90" lengthAdjust="spacingAndGlyphs">Platinum</text><text x="318.40" y="746.6" textLength="49.12" lengthAdjust="spacingAndGlyphs">Monthly</text><text x="375.05" y="746.6" textLength="51.17" lengthAdjust="spacingAndGlyphs">Monthly</text><text x="433.98" y="746.6" textLength="159.17" lengthAdjust="spacingAndGlyphs">01JAN1987-22APR2026</text>
<text x="673.04" y="746.6" textLength="76.01" lengthAdjust="spacingAndGlyphs">Copyright©</text><text x="753.76" y="746.6" textLength="33.02" lengthAdjust="spacingAndGlyphs">2026</text><text x="792.59" y="746.6" textLength="74.61" lengthAdjust="spacingAndGlyphs">Bloomberg</text><text x="872.63" y="746.6" textLength="53.02" lengthAdjust="spacingAndGlyphs">Finance</text><text x="931.37" y="746.6" textLength="23.65" lengthAdjust="spacingAndGlyphs">L.P.</text>
<text x="1036.68" y="746.6" textLength="90.75" lengthAdjust="spacingAndGlyphs">22-Apr-2026</text><text x="1132.14" y="746.6" textLength="63.32" lengthAdjust="spacingAndGlyphs">10:14:34</text>
</g>
<g font-size="33" fill="#ececec">
<text x="11.01" y="798.2" textLength="112.69" lengthAdjust="spacingAndGlyphs">Source:</text><text x="136.88" y="798.2" textLength="161.03" lengthAdjust="spacingAndGlyphs">Bloomberg</text><text x="309.28" y="798.2" textLength="178.97" lengthAdjust="spacingAndGlyphs">Intelligence</text>
</g>

<!-- Bloomberg Intelligence logo -->
<g font-size="24.4" fill="#ffffff" stroke="#ffffff" stroke-width="0.9">
<text x="1005.77" y="783.3" textLength="125.53" lengthAdjust="spacingAndGlyphs">Bloomberg</text>
<text x="1005.60" y="810" textLength="129.09" lengthAdjust="spacingAndGlyphs">Intelligence</text>
</g>
<circle cx="1171.2" cy="788" r="23" fill="#ffffff"/>
<g class="bi" font-size="26.5" fill="#111" stroke="#111" stroke-width="1.1"><text x="1157.54" y="796.7" textLength="27.95" lengthAdjust="spacingAndGlyphs" class="bi">BI</text></g>
</g>
</svg>
</body>
</html>
